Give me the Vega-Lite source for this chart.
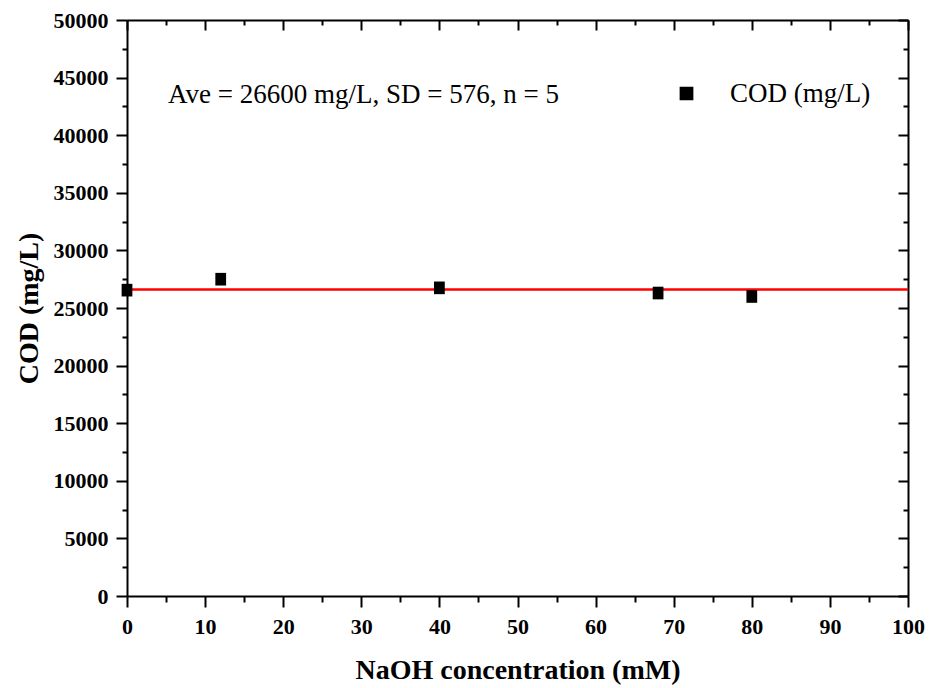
{
  "$schema": "https://vega.github.io/schema/vega-lite/v6.json",
  "width": 781,
  "height": 576,
  "autosize": {"type": "none"},
  "padding": {"left": 127, "top": 20, "right": 22, "bottom": 92},
  "background": "white",
  "config": {
    "view": {"stroke": null},
    "axis": {
      "domainColor": "black", "domainWidth": 2, "tickColor": "black", "tickWidth": 2,
      "labelFont": "Times New Roman, Liberation Serif, serif", "labelFontWeight": "bold", "labelFontSize": 22, "labelColor": "black",
      "titleFont": "Times New Roman, Liberation Serif, serif", "titleFontWeight": "bold", "titleFontSize": 28, "titleColor": "black",
      "grid": false
    }
  },
  "datasets": {
    "cod": [
      {"naoh": 0, "cod": 26550, "series": "COD (mg/L)"},
      {"naoh": 12, "cod": 27500, "series": "COD (mg/L)"},
      {"naoh": 40, "cod": 26750, "series": "COD (mg/L)"},
      {"naoh": 68, "cod": 26300, "series": "COD (mg/L)"},
      {"naoh": 80, "cod": 26000, "series": "COD (mg/L)"}
    ],
    "ave": [{"ave": 26600}],
    "note": [{"label": "Ave = 26600 mg/L, SD = 576, n = 5"}]
  },
  "layer": [
    {
      "data": {"name": "ave"},
      "mark": {"type": "rule", "color": "#ff0000", "strokeWidth": 2.5},
      "encoding": {
        "y": {"field": "ave", "type": "quantitative", "axis": null}
      }
    },
    {
      "data": {"name": "cod"},
      "mark": {"type": "point", "filled": true, "shape": "M-0.85,-1H0.85V1H-0.85Z", "size": 160, "opacity": 1},
      "encoding": {
        "x": {
          "field": "naoh", "type": "quantitative",
          "scale": {"domain": [0, 100], "nice": false, "zero": false},
          "axis": {
            "orient": "bottom",
            "values": [0,5,10,15,20,25,30,35,40,45,50,55,60,65,70,75,80,85,90,95,100],
            "labelExpr": "datum.value % 10 === 0 ? datum.label : ''",
            "tickSize": {"condition": {"test": "datum.value % 10 === 0", "value": 11}, "value": 6},
            "labelPadding": 9,
            "labelFlush": false,
            "labelOverlap": false,
            "title": "NaOH concentration (mM)",
            "titlePadding": 19
          }
        },
        "y": {
          "field": "cod", "type": "quantitative",
          "scale": {"domain": [0, 50000], "nice": false},
          "axis": {
            "orient": "left",
            "values": [0,2500,5000,7500,10000,12500,15000,17500,20000,22500,25000,27500,30000,32500,35000,37500,40000,42500,45000,47500,50000],
            "labelExpr": "datum.value % 5000 === 0 ? datum.value : ''",
            "tickSize": {"condition": {"test": "datum.value % 5000 === 0", "value": 11}, "value": 5},
            "labelPadding": 8,
            "labelFlush": false,
            "labelOverlap": false,
            "title": "COD (mg/L)",
            "titlePadding": 10
          }
        },
        "color": {
          "field": "series", "type": "nominal",
          "scale": {"range": ["black"]},
          "legend": {
            "orient": "none", "legendX": 546, "legendY": 60, "title": null,
            "symbolType": "square", "symbolSize": 150, "symbolFillColor": "black", "symbolStrokeColor": "black",
            "labelFont": "Times New Roman, Liberation Serif, serif", "labelFontSize": 27, "labelColor": "black", "labelOffset": 30
          }
        }
      }
    },
    {
      "data": {"name": "note"},
      "mark": {"type": "text", "font": "Times New Roman, Liberation Serif, serif", "fontSize": 27, "align": "left", "baseline": "alphabetic", "color": "black"},
      "encoding": {
        "text": {"field": "label"},
        "x": {"datum": 5.25, "type": "quantitative", "axis": null},
        "y": {"datum": 42800, "type": "quantitative", "axis": null}
      }
    },
    {
      "data": {"name": "cod"},
      "mark": {"type": "point", "opacity": 0},
      "encoding": {
        "x": {
          "field": "naoh", "type": "quantitative",
          "axis": {
            "orient": "top",
            "values": [0,5,10,15,20,25,30,35,40,45,50,55,60,65,70,75,80,85,90,95,100],
            "labels": false,
            "tickSize": {"condition": {"test": "datum.value % 10 === 0", "value": -10}, "value": -5},
            "title": null
          }
        },
        "y": {
          "field": "cod", "type": "quantitative",
          "axis": {
            "orient": "right",
            "values": [0,2500,5000,7500,10000,12500,15000,17500,20000,22500,25000,27500,30000,32500,35000,37500,40000,42500,45000,47500,50000],
            "labels": false,
            "tickSize": {"condition": {"test": "datum.value % 5000 === 0", "value": -10}, "value": -5},
            "title": null
          }
        }
      }
    }
  ]
}
